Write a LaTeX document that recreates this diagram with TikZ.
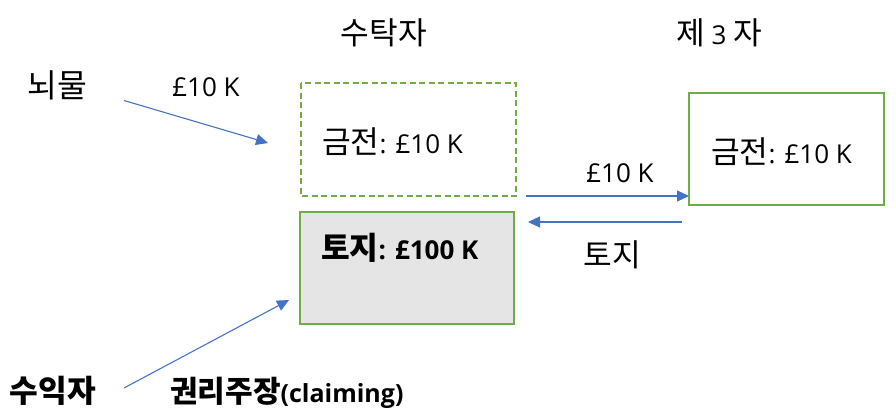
\documentclass[tikz,border=0pt]{standalone}
\usepackage{fontspec}
\setmainfont{Open Sans}
\newfontfamily\kr{Noto Sans CJK KR}[Scale=1.2]
\usetikzlibrary{arrows.meta}
\definecolor{boxgreen}{HTML}{70AD47}
\definecolor{arrblue}{HTML}{4472C4}
\definecolor{boxgray}{HTML}{E5E5E5}
\begin{document}
\begin{tikzpicture}[x=1pt,y=-1pt,
  lbl/.style={inner sep=0pt,font=\fontsize{26}{30}\selectfont},
  big/.style={inner sep=0pt,font=\fontsize{27}{31}\selectfont},
  bigb/.style={inner sep=0pt,font=\fontsize{26}{30}\selectfont\bfseries},
  lblb/.style={inner sep=0pt,font=\fontsize{26}{30}\selectfont\bfseries},
  clb/.style={inner sep=0pt,font=\fontsize{25}{29}\selectfont\bfseries},
  gbox/.style={draw=boxgreen,line width=2.5pt},
  conn/.style={draw=arrblue,line width=1.1pt,-{Triangle[length=12pt,width=11pt]}}]
\useasboundingbox (0,0) rectangle (896,407);
% boxes
\draw[gbox,dashed,dash pattern=on 6pt off 3.5pt] (301,83) rectangle (516,196);
\draw[gbox,fill=boxgray] (300,212) rectangle (514,324);
\draw[gbox] (689,93) rectangle (884,205);
% texts
\node (t1) [lbl] at (384,33) {\kr 수탁자};
\node (t2) [lbl] at (719,33) {{\kr 제} 3 {\kr 자}};
\node (bribe) [big] at (57,85) {\kr 뇌물};
\node (l1) [lbl] at (206,87) {£10 K};
\node (c1) [lbl,anchor=west] at (322,142) {{\kr 금전}: £10 K};
\node (land) [lblb,anchor=west] at (321,248) {{\kr 토지}: £100 K};
\node (c2) [lbl,anchor=west] at (711,152) {{\kr 금전}: £10 K};
\node (l2) [lbl] at (620,173) {£10 K};
\node (l3) [lbl] at (612,255) {\kr 토지};
\node (ben) [bigb] at (53,391) {\kr 수익자};
\node (claim) [clb,anchor=west] at (170,393) {{\kr 권리주장}(claiming)};
% arrow endpoints
\coordinate (a1s) at (124,100.5);
\coordinate (a1e) at (268,143);
\coordinate (a2s) at (526,196);
\coordinate (a2e) at (689,196);
\coordinate (a3s) at (682,222);
\coordinate (a3e) at (528,222);
\coordinate (a4s) at (124,388);
\coordinate (a4e) at (289,300);
\draw[conn] (a1s) -- (a1e);
\draw[conn] (a2s) -- (a2e);
\draw[conn] (a3s) -- (a3e);
\draw[conn] (a4s) -- (a4e);
\end{tikzpicture}
\end{document}
